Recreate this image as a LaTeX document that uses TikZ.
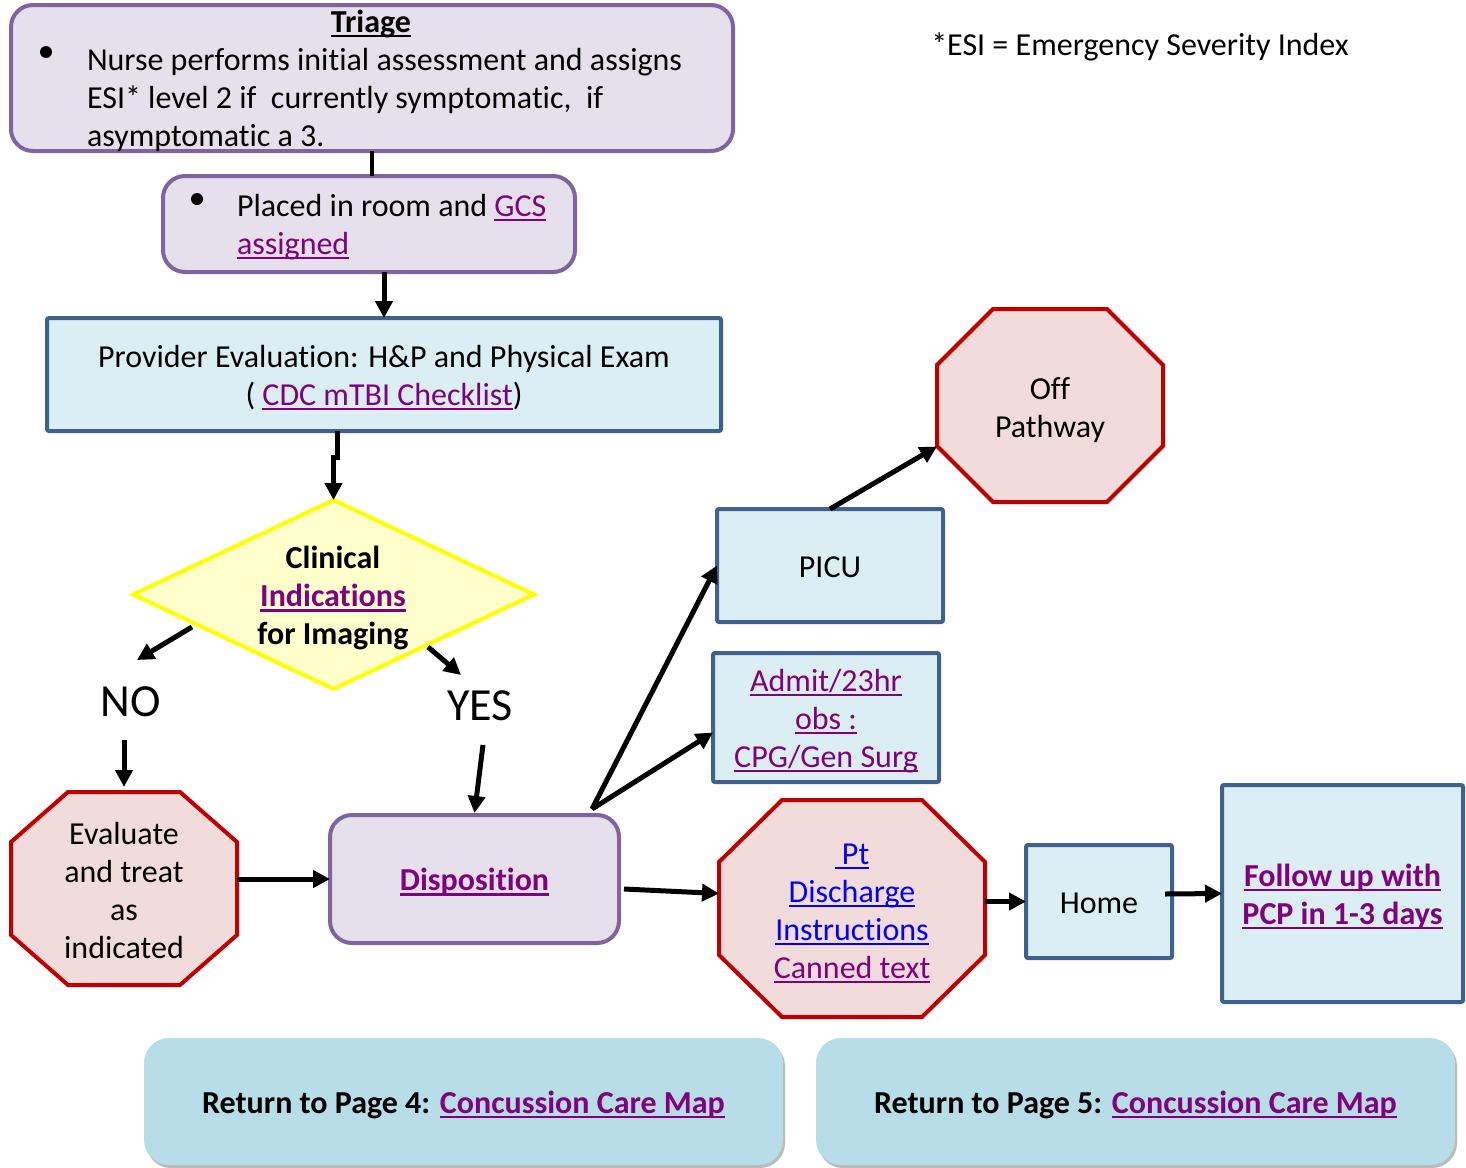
\documentclass[tikz,border=0pt]{standalone}
\usepackage{fontspec}
\setmainfont{Carlito}[Ligatures={NoCommon,NoRequired,NoContextual}]
\usetikzlibrary{arrows.meta,calc,shadows,shapes.geometric}
\definecolor{lnk}{HTML}{800080}
\definecolor{lnkb}{HTML}{0000FF}
\definecolor{lavf}{HTML}{E5E0EC}
\definecolor{lavd}{HTML}{8064A2}
\definecolor{bluf}{HTML}{DAEEF3}
\definecolor{blud}{HTML}{3F6190}
\definecolor{redd}{HTML}{C00000}
\definecolor{redf}{HTML}{F2DCDB}
\definecolor{yelf}{HTML}{FFFFCC}
\definecolor{yeld}{HTML}{FFFF00}
\definecolor{retf}{HTML}{B7DDE8}
\newcommand\fzz{\fontsize{32}{38}\selectfont}
\newcommand\mystrut{\rule[-7.4pt]{0pt}{38pt}}
\newcommand\ulk[1]{\setbox0\hbox{#1}\rlap{\rule[-5pt]{\wd0}{2.5pt}}\box0}
\newcommand\octo[7]{%
  \node[minimum width=#4pt, minimum height=#5pt] (#1) at (#2,#3) {};
  \draw[oct] ($(#1.north west)+(#6,0)$) -- ($(#1.north east)+(-#6,0)$)
    -- ($(#1.north east)+(0,#7)$) -- ($(#1.south east)+(0,-#7)$)
    -- ($(#1.south east)+(-#6,0)$) -- ($(#1.south west)+(#6,0)$)
    -- ($(#1.south west)+(0,-#7)$) -- ($(#1.north west)+(0,#7)$) -- cycle;
}
\begin{document}
\begin{tikzpicture}[x=1pt,y=-1pt,
  every node/.style={inner sep=0pt, outer sep=0pt, font=\fzz},
  pbox/.style={draw=lavd, fill=lavf, line width=4pt, rounded corners=22pt},
  bbox/.style={draw=blud, fill=bluf, line width=4pt, rounded corners=2pt},
  oct/.style={draw=redd, fill=redf, line width=4pt, line join=miter},
  ybox/.style={draw=yeld, fill=yelf, line width=4pt},
  rbox/.style={fill=retf, rounded corners=25pt,
    drop shadow={shadow xshift=2pt, shadow yshift=-3pt, fill=black!45, opacity=0.6}},
  arr/.style={line width=5pt, -{Triangle[length=17pt,width=17pt]}},
  plain/.style={line width=4pt},
  dot/.style={circle, fill=black, minimum size=12pt},
  txt/.style={align=center},
  big/.style={font=\fontsize{46}{50}\selectfont, text height=29.6pt, text depth=0pt}
]
\useasboundingbox (0,0) rectangle (1466,1167);

% Triage
\node[pbox, minimum width=722pt, minimum height=146pt] (triage) at (372,78) {};
\node[font=\fzz\bfseries] (ttitle) at (371,20.5) {\ulk{Triage}\mystrut};
\node[dot] (bul1) at (46,52) {};
\node[anchor=north west, align=left] (ttext) at (87,39.7)
  {Nurse performs initial assessment and assigns\mystrut\\
   ESI* level 2 if~ currently symptomatic,~ if\mystrut\\
   asymptomatic a 3.\mystrut};

% Placed
\node[pbox, minimum width=412pt, minimum height=96pt] (placed) at (369,224) {};
\node[dot] (bul2) at (197,199) {};
\node[anchor=north west, align=left] (ptext) at (237,185.7)
  {Placed in room and {\color{lnk}\ulk{GCS}}\mystrut\\
   {\color{lnk}\ulk{assigned}}\mystrut};

% Provider
\node[bbox, txt, minimum width=674pt, minimum height=113pt] (prov) at (384,374.5)
  {Provider Evaluation: H\&P and Physical Exam\mystrut\\
   ( {\color{lnk}\ulk{CDC mTBI Checklist}})\mystrut};

% Diamond
\node[ybox, diamond, minimum width=401pt, minimum height=189pt] (diam) at (333.5,594.5) {};
\node[txt, font=\fzz\bfseries] (clin) at (333,595)
  {Clinical\mystrut\\ {\color{lnk}\ulk{Indications}}\mystrut\\ for Imaging\mystrut};

\node[big] (no) at (131,702) {NO};
\node[big] (yes) at (480,706) {YES};

% Evaluate octagon
\octo{evalo}{124}{888.5}{226}{193}{57}{50}
\node[txt] (evalt) at (124,889.5)
  {Evaluate\mystrut\\ and treat\mystrut\\ as\mystrut\\ indicated\mystrut};

% Disposition
\node[pbox, minimum width=289pt, minimum height=128pt, font=\fzz\bfseries] (disp) at (474.5,879)
  {{\color{lnk}\ulk{Disposition}}\mystrut};

% PICU
\node[bbox, minimum width=226pt, minimum height=113pt] (picu) at (830,565.5) {PICU\mystrut};

% Off pathway
\octo{offo}{1050}{405.5}{226}{193}{56}{56}
\node[txt] (offt) at (1050,407) {Off\mystrut\\ Pathway\mystrut};

% Admit
\node[bbox, txt, minimum width=226pt, minimum height=129pt] (admit) at (826,717.5)
  {{\color{lnk}\ulk{Admit/23hr}}\mystrut\\ {\color{lnk}\ulk{obs :}}\mystrut\\
   {\color{lnk}\ulk{CPG/Gen Surg}}\mystrut};

% Pt discharge
\octo{pto}{852}{908.5}{266}{217}{63}{62}
\node[txt] (ptt) at (852,909.5)
  {{\color{lnkb}\ulk{ Pt}}\mystrut\\ {\color{lnkb}\ulk{Discharge}}\mystrut\\
   {\color{lnkb}\ulk{Instructions}}\mystrut\\ {\color{lnk}\ulk{Canned text}}\mystrut};

% Home
\node[bbox, minimum width=146pt, minimum height=113pt] (home) at (1099,901.5) {Home\mystrut};

% Follow up
\node[bbox, txt, minimum width=241pt, minimum height=217pt, font=\fzz\bfseries] (follow) at (1342.5,893.5)
  {{\color{lnk}\ulk{Follow up with}}\mystrut\\ {\color{lnk}\ulk{PCP in 1-3 days}}\mystrut};

% Return boxes
\node[rbox, minimum width=639pt, minimum height=127pt, font=\fzz\bfseries] (ret4) at (463.5,1101.5)
  {Return to Page 4: {\color{lnk}\ulk{Concussion Care Map}}\mystrut};
\node[rbox, minimum width=639pt, minimum height=127pt, font=\fzz\bfseries] (ret5) at (1135.5,1101.5)
  {Return to Page 5: {\color{lnk}\ulk{Concussion Care Map}}\mystrut};

% Note
\node (esi) at (1140,44) {*ESI = Emergency Severity Index\mystrut};

% Connectors
\draw[plain] (triage.south) -- (triage.south |- placed.north);
\coordinate (p1) at ([xshift=15pt]placed.south);
\draw[arr] (p1) -- (p1 |- prov.north);
\coordinate (p2) at ([xshift=-47pt]prov.south);
\draw[arr] (p2) -- ++(0,26) -| (diam.north);
\coordinate (d1) at (192,627);
\coordinate (no1) at (137,660);
\draw[arr] (d1) -- (no1);
\coordinate (d2) at (428,647);
\coordinate (y1) at (461,675);
\draw[arr] (d2) -- (y1);
\coordinate (n2) at (124,740);
\draw[arr] (n2) -- ([yshift=5pt]evalo.north);
\coordinate (y2) at (483,745);
\draw[arr] (y2) -- ([yshift=2pt]disp.north);
\draw[arr] (evalo.east |- disp.west) -- (disp.west);
\coordinate (ds) at (592,809);
\draw[arr] (ds) -- (picu.west);
\draw[arr] (ds) -- ([yshift=-15pt]admit.west);
\coordinate (ds2) at (624,889);
\draw[arr] (ds2) -- ([yshift=15pt]pto.west);
\draw[arr] (picu.north) -- ([yshift=-41pt]offo.west);
\draw[arr] (pto.east |- home.west) -- (home.west);
\draw[arr] ([xshift=-7pt,yshift=7.5pt]home.east) -- (follow.west);
\end{tikzpicture}
\end{document}
